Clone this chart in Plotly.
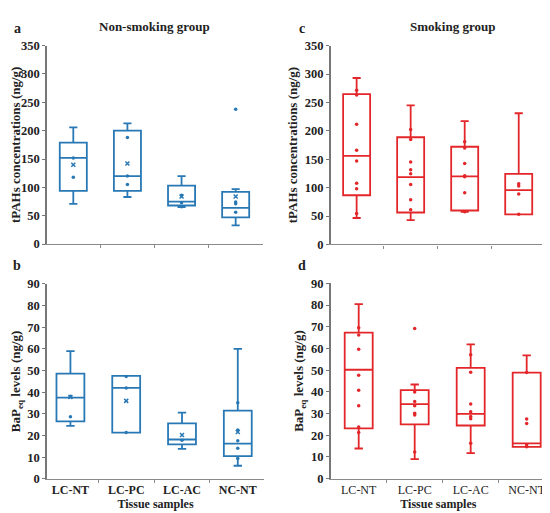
import plotly.graph_objects as go

CATS = ['LC-NT', 'LC-PC', 'LC-AC', 'NC-NT']

# a: non-smoking, tPAHs (ng/g)
A_Q1 = [94, 94, 68, 47]
A_MED = [152, 120, 75, 64]
A_Q3 = [179, 200, 103, 92]
A_LO = [71, 83, 65, 33]
A_HI = [206, 213, 120, 97]
A_MEAN = [140, 142, 84, 84]
A_PTS = [[152, 118], [188, 120, 105], [86, 73, 66], [238, 74, 71, 56]]

# b: non-smoking, BaPeq (ng/g)
B_Q1 = [26.6, 21.4, 16.0, 10.5]
B_MED = [37.5, 42.0, 18.2, 16.3]
B_Q3 = [48.6, 47.5, 25.6, 31.5]
B_LO = [24.5, 21.4, 13.9, 6.1]
B_HI = [58.9, 47.5, 30.6, 60.0]
B_MEAN = [37.8, 36.0, 20.3, 21.7]
B_PTS = [[38.1, 28.7], [47.3, 42.0, 21.4], [17.8], [35.1, 22.6, 17.6, 14.2, 9.4]]

# c: smoking, tPAHs (ng/g)
C_Q1 = [86.6, 56.3, 59.8, 53]
C_MED = [156, 118.5, 120, 95.7]
C_Q3 = [264.7, 188.7, 172, 124.3]
C_LO = [46.6, 43, 57.5, 53]
C_HI = [293, 245, 217, 231]
C_PTS = [[271.5, 263, 211.6, 166, 147, 107.7, 98, 54.6],
         [202.4, 184.8, 145, 131.7, 124.3, 105.4, 78.6, 61],
         [181, 170, 142.5, 121, 119, 91, 57.5],
         [107, 103, 89, 53]]

# d: smoking, BaPeq (ng/g)
D_Q1 = [23.2, 25.0, 24.5, 14.7]
D_MED = [50.2, 34.4, 29.9, 16.3]
D_Q3 = [67.3, 40.8, 51.1, 48.9]
D_LO = [13.9, 9.0, 11.8, 14.7]
D_HI = [80.4, 43.4, 61.9, 56.8]
D_PTS = [[69.5, 66.2, 59.6, 47.7, 40.7, 33.6, 23.8, 21.3],
         [69.2, 40.0, 35.6, 33.6, 30.2, 29.3, 12.3],
         [57.1, 49.0, 34.4, 30.8, 28.6, 27.6, 16.3],
         [48.9, 27.5, 25.4, 15.6, 14.7]]

BLUE = '#2878b5'
RED = '#e3262a'
FONT = 'Liberation Serif'
W, H = 550, 513

fig = go.Figure()


def add_panel(ax, q1, med, q3, lo, hi, pts, color, mean=None):
    xs = list(range(len(CATS)))
    fig.add_trace(go.Box(
        x=xs, q1=q1, median=med, q3=q3, lowerfence=lo, upperfence=hi,
        width=0.5, whiskerwidth=0.3, boxpoints=False,
        line=dict(color=color, width=1.8), fillcolor='rgba(255,255,255,0)',
        xaxis=f'x{ax}', yaxis=f'y{ax}', showlegend=False,
    ))
    px = [i for i, p in enumerate(pts) for _ in p]
    py = [v for p in pts for v in p]
    fig.add_trace(go.Scatter(
        x=px, y=py, mode='markers', marker=dict(color=color, size=3.5),
        xaxis=f'x{ax}', yaxis=f'y{ax}', showlegend=False,
    ))
    if mean:
        fig.add_trace(go.Scatter(
            x=xs, y=mean, mode='markers',
            marker=dict(color=color, size=4, symbol='x-thin', line=dict(color=color, width=1.5)),
            xaxis=f'x{ax}', yaxis=f'y{ax}', showlegend=False,
        ))


add_panel('', A_Q1, A_MED, A_Q3, A_LO, A_HI, A_PTS, BLUE, A_MEAN)
add_panel('2', C_Q1, C_MED, C_Q3, C_LO, C_HI, C_PTS, RED)
add_panel('3', B_Q1, B_MED, B_Q3, B_LO, B_HI, B_PTS, BLUE, B_MEAN)
add_panel('4', D_Q1, D_MED, D_Q3, D_LO, D_HI, D_PTS, RED)


def xdom(l, r):
    return [l / W, r / W]


def ydom(bot, top):
    return [1 - bot / H, 1 - top / H]


def xax(dom, rng, anchor, labels, bold):
    d = dict(domain=dom, range=rng, anchor=anchor, showgrid=False, zeroline=False,
             showline=True, linecolor='#8a8a8a', linewidth=1.2,
             tickmode='array', tickvals=[0, 1, 2, 3], ticks='',
             minor=dict(tickmode='array', tickvals=[0.5, 1.5, 2.5], ticks='outside',
                        ticklen=3, tickcolor='#8a8a8a'),
             fixedrange=True)
    if labels:
        d['ticktext'] = [f'<b>{c}</b>' if bold else c for c in CATS]
        d['tickfont'] = dict(family=FONT, size=12, color='#222')
        d['title'] = dict(text='<b>Tissue samples</b>', standoff=3,
                          font=dict(family=FONT, size=12, color='#222'))
    else:
        d['showticklabels'] = False
    return d


def yax(dom, rng, dtick, anchor, title, standoff):
    return dict(domain=dom, range=rng, anchor=anchor, dtick=dtick, showgrid=False,
                zeroline=False, showline=True, linecolor='#777', linewidth=1.5,
                ticks='outside', ticklen=3, tickcolor='#777',
                tickfont=dict(family=FONT, size=12.5, color='#222', weight='bold'),
                title=dict(text=f'<b>{title}</b>', standoff=standoff,
                           font=dict(family=FONT, size=13, color='#222')),
                fixedrange=True)


TPAH = 'tPAHs concentrations (ng/g)'
BAP = 'BaP<sub>eq</sub> levels (ng/g)'

fig.update_layout(
    width=W, height=H,
    margin=dict(l=0, r=0, t=0, b=0),
    paper_bgcolor='white', plot_bgcolor='white',
    font=dict(family=FONT, color='#222'),
    xaxis=xax(xdom(39, 255), [-0.486, 3.505], 'y', False, True),
    yaxis=yax(ydom(235.5, 31.5), [0, 350], 50, 'x', TPAH, 4),
    xaxis2=xax(xdom(322.7, 538), [-0.48, 3.505], 'y2', False, True),
    yaxis2=yax(ydom(235.9, 31.5), [0, 350], 50, 'x2', TPAH, 4),
    xaxis3=xax(xdom(39, 256), [-0.42, 3.47], 'y3', True, True),
    yaxis3=yax(ydom(477, 276.3), [0, 90], 10, 'x3', BAP, 7),
    xaxis4=xax(xdom(322.7, 538), [-0.5, 3.345], 'y4', True, False),
    yaxis4=yax(ydom(476.7, 275.9), [0, 90], 10, 'x4', BAP, 4),
)


def note(text, x, y, size):
    fig.add_annotation(text=text, x=x / W, y=1 - y / H, xref='paper', yref='paper',
                       showarrow=False, xanchor='center', yanchor='middle',
                       font=dict(family=FONT, size=size, color='#222'))


note('<b>a</b>', 9, 14, 14)
note('<b>c</b>', 294, 14, 14)
note('<b>b</b>', 9, 258, 14)
note('<b>d</b>', 294, 258, 14)
note('<b>Non-smoking group</b>', 146, 12, 13)
note('<b>Smoking group</b>', 444, 12, 13)

fig.write_html('out.html')
